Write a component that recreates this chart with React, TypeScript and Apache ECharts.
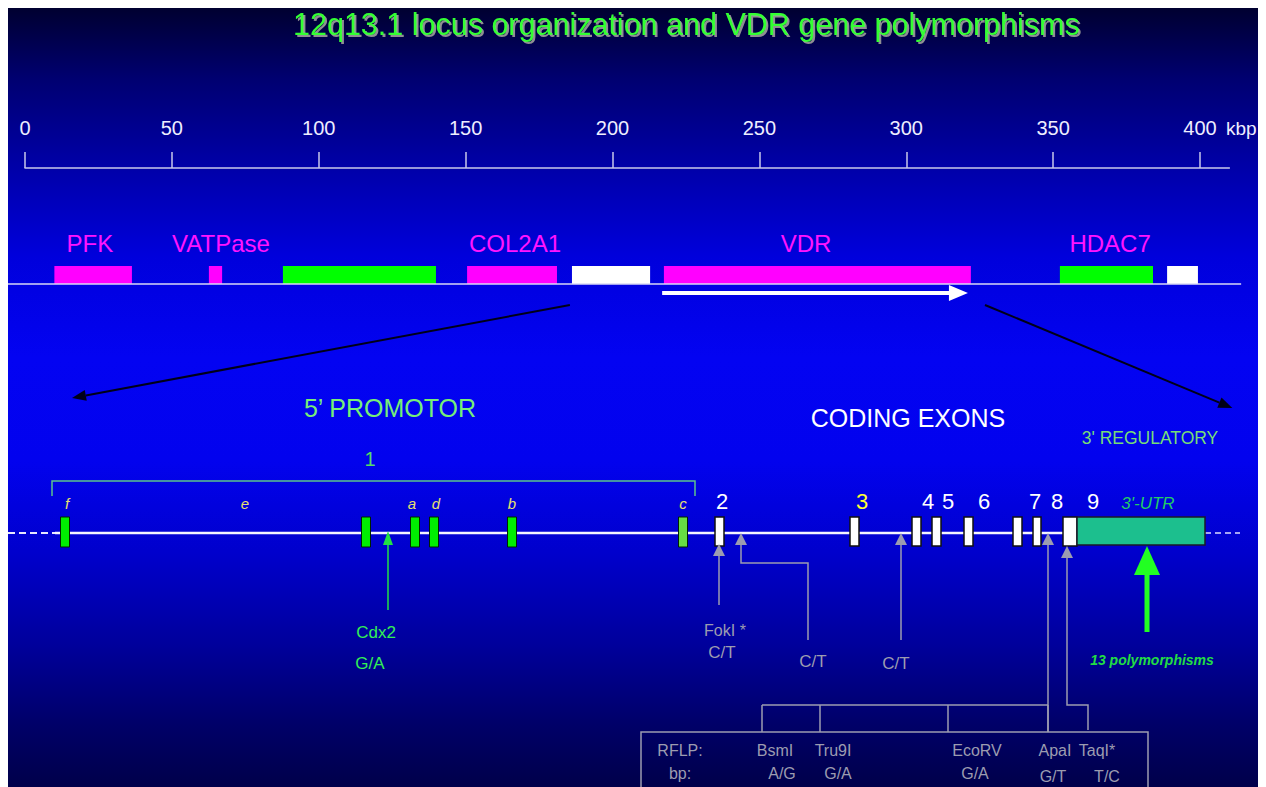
import React, { useEffect, useRef } from "react";
import * as echarts from "echarts";

const FONT = '"Liberation Sans", Arial, Helvetica, sans-serif';

const TITLE = "12q13.1 locus organization and VDR gene polymorphisms";

// ---------- Locus map (kbp) ----------
const kbpTicks = [0, 50, 100, 150, 200, 250, 300, 350, 400];
const kbpMax = 410;
const kbpUnit = "kbp";
const locusExtent = [-6, 414];
const geneNames = ["PFK", "VATPase", "", "COL2A1", "", "VDR", "HDAC7", ""];
const geneStart = [10, 62.6, 87.8, 150.5, 186.2, 217.5, 352.3, 388.8];
const geneEnd = [36.4, 67.1, 139.9, 181.1, 212.8, 322.0, 384.0, 399.3];
const geneKind = ["named", "named", "other", "named", "plain", "named", "other", "plain"];
const geneNameAt = [22.1, 66.7, 0, 166.8, 0, 265.9, 369.4, 0];
const vdrStrand = [216.9, 321.0];
const zoomFromKbp = [185.5, 326.8];
const zoomToKbp = [16, 411];

// ---------- VDR gene structure (schematic position units) ----------
const geneLineDashLeft = [0, 47];
const geneLineSolid = [47, 1197];
const geneLineDashRight = [1197, 1232];
const exon1Span = [44, 687];
const exon1Label = "1";
const exon1LabelPos = 362;
const promoterExonPos = [57, 358, 407, 426, 504, 675];
const promoterExonPale = [0, 0, 0, 0, 0, 1];
const promoterLabels = ["f", "e", "a", "d", "b", "c"];
const promoterLabelPos = [59, 237, 404, 428, 504, 675];
const codingExonLabels = ["2", "3", "4", "5", "6", "7", "8", "9"];
const codingExonStart = [707, 842, 904, 924, 956, 1005, 1025, 1055];
const codingExonEnd = [716, 851, 913, 933, 965, 1014, 1033, 1069];
const codingLabelPos = [714, 854, 920, 940, 976, 1027, 1049, 1085];
const utrSpan = [1069, 1197];
const utrLabel = "3'-UTR";
const utrLabelPos = 1140;
const sectionLabels = ["5\u2019 PROMOTOR", "CODING EXONS", "3' REGULATORY"];
const sectionLabelPos = [382, 900, 1142];

// polymorphisms
const cdx2Pos = 380;
const cdx2Labels = ["Cdx2", "G/A"];
const cdx2LabelPos = [368, 362];
const fokIPos = 711;
const fokILabels = ["FokI *", "C/T"];
const fokILabelPos = [717, 714];
const ctPos = [733, 893];
const ctElbow = 800;
const ctLabel = "C/T";
const ctLabelPos = [805, 888];
const apaIPos = 1040;
const taqIPos = 1059;
const taqIElbow = 1080;
const rflpDrops = [754, 812, 940, 1040];
const rflpBox = [633, 1140];
const rflpHeads = ["RFLP:", "bp:"];
const rflpHeadPos = 672;
const rflpNames = ["BsmI", "Tru9I", "EcoRV", "ApaI", "TaqI*"];
const rflpNamePos = [767, 825, 969, 1047, 1089];
const rflpAlleles = ["A/G", "G/A", "G/A", "G/T", "T/C"];
const rflpAllelePos = [774, 830, 967, 1045, 1099];
const utrPolyPos = 1139;
const utrPolyLabel = "13 polymorphisms";
const utrPolyLabelPos = 1144;

const BG =
  "linear-gradient(to bottom, #000030 0%, #000070 9%, #0000a6 20%, #0000dc 32%, #0303f2 45%, #0202ee 58%, #0000cc 70%, #00009a 82%, #000068 92%, #00004a 100%)";

const GRAY = "#9c9cb0";

function txt(text: string, x: number, y: number, o: any = {}) {
  const align = o.align || "center";
  return {
    type: "text",
    style: {
      text,
      x,
      y,
      fill: o.fill || "#ffffff",
      fontSize: o.size || 16,
      fontFamily: FONT,
      fontStyle: o.italic ? "italic" : "normal",
      fontWeight: o.bold ? "bold" : "normal",
      align,
      verticalAlign: "middle",
      textAlign: align,
      textVerticalAlign: "middle",
    },
  };
}

function line(x1: number, y1: number, x2: number, y2: number, stroke: string, lw: number, dash?: number[]) {
  const style: any = { stroke, lineWidth: lw };
  if (dash) style.lineDash = dash;
  return { type: "line", shape: { x1, y1, x2, y2 }, style };
}

function poly(points: number[][], stroke: string, lw: number) {
  return { type: "polyline", shape: { points }, style: { stroke, lineWidth: lw, fill: "none" } };
}

function headUp(x: number, tip: number, w: number, h: number, fill: string) {
  return {
    type: "polygon",
    shape: { points: [[x, tip], [x - w / 2, tip + h], [x + w / 2, tip + h]] },
    style: { fill },
  };
}

const X = (api: any, v: number) => api.coord([v, 0])[0];
const B = (api: any) => api.coord([0, 0])[1];

const kindColor: any = { named: "#ff00ff", other: "#00ff00", plain: "#ffffff" };

function buildOption(): any {
  return {
    animation: false,
    backgroundColor: "transparent",
    graphic: [
      {
        type: "text",
        x: 285,
        y: 16,
        style: {
          text: TITLE,
          fill: "#33ff33",
          fontSize: 30.5,
          fontFamily: FONT,
          textAlign: "left",
          textVerticalAlign: "middle",
          align: "left",
          verticalAlign: "middle",
          textShadowColor: "rgba(150,150,150,0.95)",
          textShadowBlur: 1,
          textShadowOffsetX: 2,
          textShadowOffsetY: 2,
        },
      },
      {
        type: "text",
        x: 1218,
        y: 120,
        style: {
          text: kbpUnit,
          fill: "#eeeeff",
          fontSize: 19,
          fontFamily: FONT,
          textAlign: "left",
          textVerticalAlign: "middle",
          align: "left",
          verticalAlign: "middle",
        },
      },
    ],
    grid: [
      { left: 17, top: 160, width: kbpMax * 2.9375, height: 116 },
      { left: 0, top: 0, width: 1250, height: 525 },
    ],
    xAxis: [
      {
        gridIndex: 0,
        type: "value",
        position: "top",
        min: 0,
        max: kbpMax,
        interval: 50,
        axisLine: { show: true, onZero: false, lineStyle: { color: "#c8c8ea", width: 1.5 } },
        axisTick: { show: true, inside: false, length: 16, customValues: kbpTicks, lineStyle: { color: "#c8c8ea", width: 1.5 } },
        axisLabel: {
          show: true,
          customValues: kbpTicks,
          color: "#eeeeff",
          fontSize: 20,
          fontFamily: FONT,
          margin: 30,
        },
        splitLine: { show: false },
      },
      { gridIndex: 1, type: "value", min: 0, max: 1250, show: false },
    ],
    yAxis: [
      { gridIndex: 0, type: "value", min: 0, max: 1, show: false },
      { gridIndex: 1, type: "value", min: 0, max: 1, show: false },
    ],
    series: [
      // locus genes
      {
        type: "custom",
        xAxisIndex: 0,
        yAxisIndex: 0,
        clip: false,
        silent: true,
        data: geneStart.map((s, i) => [s, geneEnd[i], i]),
        renderItem: (_p: any, api: any) => {
          const i = api.value(2);
          const x0 = X(api, api.value(0));
          const x1 = X(api, api.value(1));
          const y0 = B(api);
          const ch: any[] = [
            { type: "rect", shape: { x: x0, y: y0 - 18, width: x1 - x0, height: 18 }, style: { fill: kindColor[geneKind[i]] } },
          ];
          if (geneNames[i]) ch.push(txt(geneNames[i], X(api, geneNameAt[i]), y0 - 41, { fill: "#ff14ff", size: 24 }));
          return { type: "group", children: ch };
        },
      },
      // locus baseline, VDR strand arrow, zoom arrows
      {
        type: "custom",
        xAxisIndex: 0,
        yAxisIndex: 0,
        clip: false,
        silent: true,
        data: [[0, 0]],
        renderItem: (_p: any, api: any) => {
          const y0 = B(api);
          const ch: any[] = [];
          ch.push(line(X(api, locusExtent[0]), y0, X(api, locusExtent[1]), y0, "#d8d8f4", 1.5));
          const ya = y0 + 9;
          const xs = X(api, vdrStrand[0]);
          const xe = X(api, vdrStrand[1]);
          ch.push(line(xs, ya, xe - 16, ya, "#ffffff", 4));
          ch.push({ type: "polygon", shape: { points: [[xe - 19, ya - 8], [xe, ya], [xe - 19, ya + 8]] }, style: { fill: "#ffffff" } });
          const drops = [114, 124];
          zoomFromKbp.forEach((k, j) => {
            const sx = X(api, k);
            const sy = y0 + 21;
            const ex = X(api, zoomToKbp[j]);
            const ey = y0 + drops[j];
            const dx = ex - sx;
            const dy = ey - sy;
            const len = Math.sqrt(dx * dx + dy * dy);
            const ux = dx / len;
            const uy = dy / len;
            const bx = ex - ux * 14;
            const by = ey - uy * 14;
            ch.push(line(sx, sy, bx, by, "#000018", 2));
            ch.push({
              type: "polygon",
              shape: { points: [[ex, ey], [bx - uy * 5.5, by + ux * 5.5], [bx + uy * 5.5, by - ux * 5.5]] },
              style: { fill: "#000018" },
            });
          });
          return { type: "group", children: ch };
        },
      },
      // gene structure: line, bracket, section labels
      {
        type: "custom",
        xAxisIndex: 1,
        yAxisIndex: 1,
        clip: false,
        silent: true,
        data: [[0, 0]],
        renderItem: (_p: any, api: any) => {
          const b = B(api);
          const ch: any[] = [];
          ch.push(line(X(api, geneLineDashLeft[0]), b, X(api, geneLineDashLeft[1]), b, "#e8e8ff", 2, [7, 4]));
          ch.push(line(X(api, geneLineSolid[0]), b, X(api, geneLineSolid[1]), b, "#f4f4ff", 2.5));
          ch.push(line(X(api, geneLineDashRight[0]), b, X(api, geneLineDashRight[1]), b, "#dcdcff", 1.5, [6, 4]));
          const bx0 = X(api, exon1Span[0]);
          const bx1 = X(api, exon1Span[1]);
          ch.push(poly([[bx0, b - 37], [bx0, b - 52], [bx1, b - 52], [bx1, b - 37]], "#5cc48c", 1.5));
          ch.push(txt(exon1Label, X(api, exon1LabelPos), b - 74, { fill: "#55dd66", size: 20 }));
          ch.push(txt(sectionLabels[0], X(api, sectionLabelPos[0]), b - 125, { fill: "#77ee77", size: 25 }));
          ch.push(txt(sectionLabels[1], X(api, sectionLabelPos[1]), b - 115, { fill: "#ffffff", size: 25 }));
          ch.push(txt(sectionLabels[2], X(api, sectionLabelPos[2]), b - 95, { fill: "#77dd77", size: 17.5 }));
          return { type: "group", children: ch };
        },
      },
      // promoter exons
      {
        type: "custom",
        xAxisIndex: 1,
        yAxisIndex: 1,
        clip: false,
        silent: true,
        data: promoterExonPos.map((p, i) => [p, 0, i]),
        renderItem: (_p: any, api: any) => {
          const i = api.value(2);
          const b = B(api);
          const x = X(api, api.value(0));
          return {
            type: "group",
            children: [
              {
                type: "rect",
                shape: { x: x - 4.5, y: b - 16, width: 9, height: 30 },
                style: { fill: promoterExonPale[i] ? "#66dd44" : "#00ee00", stroke: "#002200", lineWidth: 1 },
              },
            ],
          };
        },
      },
      // promoter labels
      {
        type: "custom",
        xAxisIndex: 1,
        yAxisIndex: 1,
        clip: false,
        silent: true,
        data: promoterLabelPos.map((p, i) => [p, 0, i]),
        renderItem: (_p: any, api: any) => {
          const i = api.value(2);
          return txt(promoterLabels[i], X(api, api.value(0)), B(api) - 30, { fill: "#e8e070", size: 15, italic: true });
        },
      },
      // coding exons
      {
        type: "custom",
        xAxisIndex: 1,
        yAxisIndex: 1,
        clip: false,
        silent: true,
        data: codingExonStart.map((s, i) => [s, codingExonEnd[i], i]),
        renderItem: (_p: any, api: any) => {
          const i = api.value(2);
          const b = B(api);
          const x0 = X(api, api.value(0));
          const x1 = X(api, api.value(1));
          return {
            type: "group",
            children: [
              {
                type: "rect",
                shape: { x: x0, y: b - 16, width: x1 - x0, height: 29 },
                style: { fill: "#ffffff", stroke: "#111111", lineWidth: 1.5 },
              },
              txt(codingExonLabels[i], X(api, codingLabelPos[i]), b - 32, {
                fill: codingExonLabels[i] === "3" ? "#ffff33" : "#ffffff",
                size: 22,
              }),
            ],
          };
        },
      },
      // 3'-UTR
      {
        type: "custom",
        xAxisIndex: 1,
        yAxisIndex: 1,
        clip: false,
        silent: true,
        data: [[utrSpan[0], utrSpan[1]]],
        renderItem: (_p: any, api: any) => {
          const b = B(api);
          const x0 = X(api, api.value(0));
          const x1 = X(api, api.value(1));
          return {
            type: "group",
            children: [
              {
                type: "rect",
                shape: { x: x0, y: b - 16, width: x1 - x0, height: 28 },
                style: { fill: "#1cbf8e", stroke: "#1a1a2a", lineWidth: 1.5 },
              },
              txt(utrLabel, X(api, utrLabelPos), b - 30, { fill: "#22cc66", size: 17, italic: true }),
            ],
          };
        },
      },
      // polymorphism arrows & RFLP box
      {
        type: "custom",
        xAxisIndex: 1,
        yAxisIndex: 1,
        clip: false,
        silent: true,
        data: [[0, 0]],
        renderItem: (_p: any, api: any) => {
          const b = B(api);
          const ch: any[] = [];
          // Cdx2
          const cx = X(api, cdx2Pos);
          ch.push(headUp(cx, b - 2, 10, 14, "#22e044"));
          ch.push(line(cx, b + 12, cx, b + 77, "#22e044", 1.5));
          ch.push(txt(cdx2Labels[0], X(api, cdx2LabelPos[0]), b + 99, { fill: "#33ee55", size: 17 }));
          ch.push(txt(cdx2Labels[1], X(api, cdx2LabelPos[1]), b + 130, { fill: "#33ee55", size: 17 }));
          // FokI
          const fx = X(api, fokIPos);
          ch.push(headUp(fx, b + 11, 12, 12, GRAY));
          ch.push(line(fx, b + 23, fx, b + 72, GRAY, 1.5));
          ch.push(txt(fokILabels[0], X(api, fokILabelPos[0]), b + 97, { fill: GRAY, size: 16 }));
          ch.push(txt(fokILabels[1], X(api, fokILabelPos[1]), b + 119, { fill: GRAY, size: 17 }));
          // C/T in intron 2
          const c1 = X(api, ctPos[0]);
          const e1 = X(api, ctElbow);
          ch.push(headUp(c1, b, 12, 12, GRAY));
          ch.push(poly([[c1, b + 12], [c1, b + 30], [e1, b + 30], [e1, b + 107]], GRAY, 1.5));
          ch.push(txt(ctLabel, X(api, ctLabelPos[0]), b + 128, { fill: GRAY, size: 17 }));
          // C/T in intron 3
          const c2 = X(api, ctPos[1]);
          ch.push(headUp(c2, b, 12, 12, GRAY));
          ch.push(line(c2, b + 12, c2, b + 107, GRAY, 1.5));
          ch.push(txt(ctLabel, X(api, ctLabelPos[1]), b + 130, { fill: GRAY, size: 17 }));
          // ApaI
          const ax = X(api, apaIPos);
          ch.push(headUp(ax, b, 12, 12, GRAY));
          ch.push(line(ax, b + 12, ax, b + 199, GRAY, 1.5));
          // TaqI
          const tx = X(api, taqIPos);
          const te = X(api, taqIElbow);
          ch.push(headUp(tx, b + 13, 12, 12, GRAY));
          ch.push(poly([[tx, b + 25], [tx, b + 172], [te, b + 172], [te, b + 197]], GRAY, 1.5));
          // RFLP bracket
          ch.push(line(X(api, rflpDrops[0]), b + 172, X(api, rflpDrops[rflpDrops.length - 1]), b + 172, GRAY, 1.5));
          rflpDrops.forEach((d) => ch.push(line(X(api, d), b + 172, X(api, d), b + 199, GRAY, 1.5)));
          // box
          const r0 = X(api, rflpBox[0]);
          const r1 = X(api, rflpBox[1]);
          ch.push({ type: "rect", shape: { x: r0, y: b + 199, width: r1 - r0, height: 80 }, style: { fill: "none", stroke: GRAY, lineWidth: 1.5 } });
          ch.push(txt(rflpHeads[0], X(api, rflpHeadPos), b + 217, { fill: GRAY, size: 16 }));
          ch.push(txt(rflpHeads[1], X(api, rflpHeadPos), b + 240, { fill: GRAY, size: 16 }));
          rflpNames.forEach((n, i) => ch.push(txt(n, X(api, rflpNamePos[i]), b + 217, { fill: GRAY, size: 16 })));
          rflpAlleles.forEach((n, i) =>
            ch.push(txt(n, X(api, rflpAllelePos[i]), b + (i >= 3 ? 243 : 240), { fill: GRAY, size: 16 }))
          );
          // 3'-UTR polymorphisms arrow
          const ux = X(api, utrPolyPos);
          ch.push(headUp(ux, b + 13, 26, 29, "#22ff22"));
          ch.push({ type: "rect", shape: { x: ux - 2.5, y: b + 41, width: 5, height: 58 }, style: { fill: "#22ff22" } });
          ch.push(txt(utrPolyLabel, X(api, utrPolyLabelPos), b + 127, { fill: "#22dd44", size: 14, italic: true, bold: true }));
          return { type: "group", children: ch };
        },
      },
    ],
  };
}

export default function App() {
  const ref = useRef<HTMLDivElement>(null);
  useEffect(() => {
    if (!ref.current) return;
    const chart = echarts.init(ref.current, null, { renderer: "svg" });
    chart.setOption(buildOption());
    return () => chart.dispose();
  }, []);
  return <div ref={ref} style={{ width: 1250, height: 779, background: BG }} />;
}
